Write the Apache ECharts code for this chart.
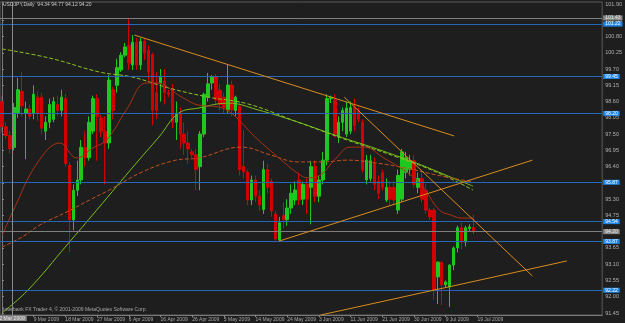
<!DOCTYPE html>
<html><head><meta charset="utf-8">
<script src="https://cdn.jsdelivr.net/npm/echarts@6/dist/echarts.min.js"></script>
<style>html,body{margin:0;padding:0;background:#1e1e1e;}#c{width:625px;height:323px;}</style>
</head><body><div id="c"></div>
<script>
// daily bars [open, high, low, close]
const bars = [
[98.60,98.80,97.55,97.75],[97.75,97.90,97.35,97.45],[97.45,97.60,96.85,97.00],[97.05,98.55,96.95,98.40],
[98.20,99.40,98.05,99.00],[98.95,99.60,98.10,98.45],[98.20,98.60,96.65,98.35],[98.35,98.50,98.00,98.10],
[98.20,99.15,98.00,98.85],[98.75,98.95,97.95,98.20],[98.75,98.90,97.50,97.70],[97.60,98.10,97.30,97.90],
[97.90,98.70,97.70,98.50],[98.00,98.75,97.90,98.60],[98.50,98.80,98.10,98.30],[98.30,99.00,98.10,98.75],
[98.70,98.85,96.40,96.50],[96.45,96.55,93.50,94.60],[94.60,95.80,94.25,95.60],[95.60,96.60,95.40,95.95],
[95.95,97.30,95.80,97.05],[97.05,97.60,96.40,96.70],[96.70,98.10,96.60,97.90],[97.60,98.80,97.50,98.70],
[98.70,98.85,96.60,98.10],[98.05,98.15,97.40,97.60],[97.60,98.10,95.80,97.20],[97.20,99.50,97.00,99.33],
[99.00,99.10,98.00,98.30],[99.15,100.05,98.90,99.75],[99.67,100.27,99.60,100.17],[100.17,100.58,100.10,100.45],
[100.50,101.43,99.67,99.90],[99.84,100.85,99.67,100.61],[100.61,100.75,99.67,99.84],[99.84,100.75,99.67,100.64],
[100.64,100.75,100.00,100.24],[100.34,100.50,99.30,99.60],[100.20,100.25,97.80,98.30],[98.90,99.60,98.00,98.30],
[99.23,99.70,98.60,99.43],[99.30,99.70,98.50,98.90],[98.90,99.00,98.75,98.85],[99.05,99.20,97.70,97.90],
[97.90,98.60,97.30,98.20],[98.20,98.40,97.00,97.50],[97.50,97.90,96.80,97.20],[97.20,97.60,96.50,97.00],
[96.90,97.00,96.70,96.80],[96.80,97.00,95.60,96.30],[96.40,97.60,95.60,97.50],[97.50,98.90,97.40,98.85],
[98.75,99.57,98.60,99.20],[99.23,99.50,99.00,99.43],[99.43,99.53,98.50,98.65],[98.99,99.20,98.30,98.50],
[98.75,98.90,98.20,98.40],[98.32,99.84,98.20,99.16],[99.16,99.30,98.10,98.32],[98.30,98.80,98.10,98.75],
[98.45,98.60,96.10,96.30],[96.40,97.64,96.00,96.22],[96.22,96.30,95.10,95.27],[95.27,96.10,95.10,95.95],
[95.95,96.10,95.20,95.40],[95.40,95.60,94.90,95.10],[94.95,96.60,94.80,96.30],[96.30,96.50,95.50,95.70],
[95.90,96.00,94.70,94.90],[94.80,94.90,93.90,93.95],[93.92,94.70,93.85,94.50],[94.75,95.20,94.30,94.60],
[94.60,95.30,94.40,95.00],[95.00,95.80,94.80,95.50],[95.27,95.90,95.10,95.61],[95.95,96.20,95.10,95.27],
[95.30,95.90,95.10,95.80],[95.80,96.00,94.80,95.30],[95.70,96.60,94.45,96.40],[96.40,96.60,95.20,95.40],
[95.40,96.10,95.20,95.95],[95.95,96.90,95.80,96.62],[96.62,98.85,96.45,98.70],[98.70,98.80,98.55,98.75],
[98.65,98.85,97.40,97.50],[97.40,98.10,97.20,97.90],[97.90,98.40,97.60,98.30],[97.50,98.60,97.40,98.38],
[97.60,98.60,97.50,98.40],[98.40,98.70,97.60,97.80],[98.30,98.40,97.90,98.00],[97.90,98.00,96.20,96.30],
[95.95,96.80,95.80,96.62],[96.00,96.80,95.90,96.60],[96.50,96.70,95.60,95.80],[95.90,96.10,95.30,95.50],
[96.20,96.30,95.60,95.70],[95.27,96.00,95.20,95.70],[95.70,95.90,95.10,95.30],[95.70,95.90,95.10,95.27],
[94.93,96.30,94.80,96.10],[95.30,97.00,95.20,96.90],[96.20,96.90,96.00,96.70],[96.30,96.80,96.10,96.60],
[96.60,96.80,95.70,95.80],[95.70,96.20,95.50,96.00],[96.00,96.20,95.20,95.30],[95.60,95.80,94.80,94.93],
[94.93,95.00,94.60,94.70],[94.93,95.00,91.90,92.23],[92.67,93.20,91.75,93.17],[93.17,93.20,91.72,92.40],
[92.40,92.55,92.30,92.50],[92.33,93.10,91.65,93.07],[93.07,93.70,92.90,93.65],[93.65,94.40,93.50,94.33],
[94.33,94.50,93.60,93.85],[93.85,94.40,93.70,94.33],[94.30,94.45,94.20,94.36],[94.34,94.77,94.12,94.20]
];
const slotCount = 152;
const xTickLabels = ['9 Mar 2009','18 Mar 2009','27 Mar 2009','6 Apr 2009','16 Apr 2009','26 Apr 2009','5 May 2009','14 May 2009','24 May 2009','3 Jun 2009','11 Jun 2009','21 Jun 2009','30 Jun 2009','9 Jul 2009','19 Jul 2009'];
const xTickEvery = 8;
const yTickValues = [91.45,92.00,92.55,93.10,93.65,94.20,94.75,95.30,95.85,96.40,96.95,97.50,98.05,98.60,99.15,99.70,100.25,100.80,101.35,101.90];
const blueLevels = [101.22,99.45,98.20,95.87,94.54,93.87,92.22];
const greyLevels = [101.43,94.20];
const vLine = {pos:2.55,label:'2 Mar 2009'};
// moving averages [bar index, price]
const maGreenDashed = [[0,100.38],[12.1,100.07],[24.6,99.60],[32.9,99.43],[42.1,99.06],[52.1,98.75],[62.1,98.52],[74.6,97.91],[87.1,97.30],[99.6,96.73],[109.6,96.22],[118.9,95.61]];
const maGreenSolid = [[0,91.45],[6.6,92.23],[16.4,93.75],[23.9,94.93],[33.9,96.52],[39.6,97.40],[44.6,98.21],[49.6,98.38],[57.1,98.55],[64.6,98.32],[74.6,97.91],[84.6,97.44],[94.6,97.00],[104.6,96.52],[112.1,96.11],[118.9,95.74]];
const maRedSolid = [[0.1,94.09],[2.9,94.93],[8.9,96.52],[14.6,97.20],[18.9,96.69],[22.9,97.03],[26.4,97.30],[31.4,98.32],[36.4,99.23],[38.9,99.23],[45.4,98.75],[49.6,98.48],[54.6,98.42],[57.9,98.21],[63.9,97.40],[67.6,96.96],[71.4,96.52],[74.6,96.18],[77.1,96.02],[80.4,96.12],[83.9,96.62],[87.9,97.06],[91.4,97.06],[96.4,96.69],[102.1,96.22],[105.9,95.78],[110.4,94.93],[113.4,94.76],[115.9,94.66],[119.1,94.66]];
const maRedDashed = [[0,93.68],[5.1,94.02],[9.6,94.43],[16.4,94.87],[22.1,95.27],[27.1,95.61],[35.4,96.22],[43.9,96.62],[49.6,96.69],[60.4,97.06],[67.9,96.79],[74.6,96.56],[81.4,96.56],[87.1,96.62],[94.6,96.52],[102.1,96.35],[109.6,96.12],[118.9,95.88]];
// trend lines [[x1,p1],[x2,p2]]
const trendLines = [
 [[33.4,100.85],[114.1,97.44]],
 [[86.4,98.75],[133.9,92.70]],
 [[69.9,93.88],[133.9,96.62]],
 [[80.4,91.38],[142.6,93.21]]
];

const FONT = 'Liberation Sans';
const chart = echarts.init(document.getElementById('c'), null, {renderer:'canvas'});
const cats = Array.from({length:slotCount}, (_, i) => String(i));
const lineSeries = (data, color, type, z) => ({type:'line', xAxisIndex:1, data, showSymbol:false, smooth:0.4, silent:true, z, lineStyle:{color, width:1, type}});

const series = [
  {type:'line', xAxisIndex:1, data:[], z:1, silent:true,
   markLine:{symbol:'none', silent:true, animation:false,
     data: blueLevels.map(v => ({yAxis:v, lineStyle:{color:'#2566b8', width:1, type:'solid'},
        label:{show:true, position:'end', formatter:v.toFixed(2), color:'#ffffff', backgroundColor:'#1f86e8', fontSize:5, fontFamily:FONT, padding:[0,2,0,2], distance:1}}))
       .concat(greyLevels.map(v => ({yAxis:v, lineStyle:{color:'#7e7e7e', width:1, type:'solid'},
        label:{show:true, position:'end', formatter:v.toFixed(2), color:'#e6e6e6', backgroundColor:'#8a8a8a', fontSize:5, fontFamily:FONT, padding:[0,2,0,2], distance:1}})))
   }},
  {type:'line', xAxisIndex:1, data:[], z:1, silent:true,
   markLine:{symbol:'none', silent:true, animation:false,
     data:[{xAxis:vLine.pos, lineStyle:{color:'#8a8a8a', width:1, type:'solid'},
       label:{show:true, position:'start', formatter:vLine.label, color:'#e0e0e0', backgroundColor:'#8a8a8a', fontSize:5, fontFamily:FONT, padding:[0,2,0,2], distance:1}}]}},
  {type:'candlestick', xAxisIndex:0, data:bars.map(b => [b[0], b[3], b[2], b[1]]), barWidth:3, z:3, silent:true,
   itemStyle:{color:'#1ec81e', color0:'#d20000', borderColor:'#1ec81e', borderColor0:'#d20000', borderWidth:1}},
  lineSeries(maGreenDashed, '#8fc21e', [4,2], 4),
  lineSeries(maGreenSolid, '#76c01a', 'solid', 4),
  lineSeries(maRedDashed, '#c4501c', [4,2], 4),
  lineSeries(maRedSolid, '#a83214', 'solid', 4)
];
trendLines.forEach(t => series.push({type:'line', xAxisIndex:1, data:t, showSymbol:false, silent:true, z:5, lineStyle:{color:'#d98c1e', width:1}}));

chart.setOption({
  animation:false,
  backgroundColor:'#1e1e1e',
  title:[
    {text:'USDJPY,Daily  94.34 94.77 94.12 94.20', left:3, top:2, padding:0, textStyle:{color:'#c8c8c8', fontSize:5, fontWeight:'normal', fontFamily:FONT}},
    {text:'Interbank FX Trader 4, \u00a9 2001-2009 MetaQuotes Software Corp.', left:3, top:307, padding:0, textStyle:{color:'#a8a8a8', fontSize:5, fontWeight:'normal', fontFamily:FONT}}
  ],
  grid:{left:-0.5, top:2, width:608, height:313, show:true, borderColor:'#5a5a5a', borderWidth:1, backgroundColor:'#1e1e1e', containLabel:false},
  xAxis:[
    {type:'category', data:cats, boundaryGap:true, position:'bottom',
     axisLine:{show:true, lineStyle:{color:'#7a7a7a'}},
     axisTick:{show:true, alignWithLabel:true, length:2, lineStyle:{color:'#8a8a8a'},
       interval:(i) => i > 0 && i % xTickEvery === 0 && i / xTickEvery <= xTickLabels.length},
     axisLabel:{show:true, interval:(i) => i > 0 && i % xTickEvery === 0 && i / xTickEvery <= xTickLabels.length,
       formatter:(v, i) => xTickLabels[i / xTickEvery - 1] || '', align:'left', color:'#a8a8a8', fontSize:5, fontFamily:FONT, margin:2},
     splitLine:{show:false}},
    {type:'value', min:-0.5, max:slotCount - 0.5, show:false}
  ],
  yAxis:{type:'value', position:'right', min:91.382, max:101.968, scale:true,
    axisLine:{show:true, lineStyle:{color:'#7a7a7a'}},
    axisTick:{show:true, length:2, customValues:yTickValues, lineStyle:{color:'#8a8a8a'}},
    axisLabel:{show:true, customValues:yTickValues, formatter:(v) => v.toFixed(2), color:'#b0b0b0', fontSize:5.5, fontFamily:FONT, margin:3},
    splitLine:{show:false}},
  series
});
</script></body></html>
